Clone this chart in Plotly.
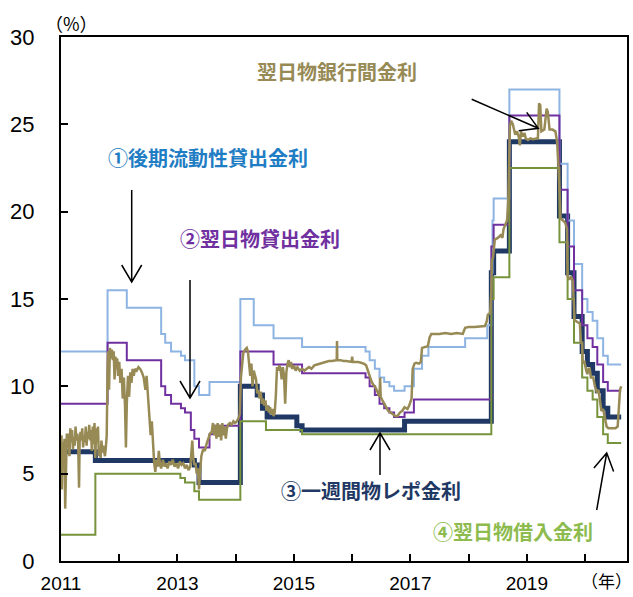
import plotly.graph_objects as go

# ---------------- data (decimal years, %) ----------------
llw_x = [2011.0, 2011.8, 2012.13, 2012.72, 2012.79, 2012.89, 2013.06, 2013.13, 2013.29, 2013.37, 2013.55,
         2014.08, 2014.31, 2014.65, 2015.14, 2016.23, 2016.30, 2016.39, 2016.47, 2016.55, 2016.64, 2016.72,
         2016.90, 2017.06, 2017.2, 2017.31, 2017.94, 2018.32, 2018.39, 2018.41, 2018.43, 2018.70, 2019.56,
         2019.70, 2019.81, 2019.95, 2020.04, 2020.13, 2020.21, 2020.31, 2020.39, 2020.62]
llw_y = [12.0, 15.5, 14.5, 13.0, 12.5, 12.0, 11.75, 11.5, 10.0, 9.5, 10.25,
         15.0, 13.5, 12.75, 12.25, 12.0, 11.5, 11.0, 10.5, 10.25, 10.0, 9.75,
         10.0, 11.0, 11.75, 12.25, 12.75, 13.5, 16.5, 19.5, 20.75, 27.0, 22.75,
         19.5, 17.0, 15.0, 14.25, 13.75, 12.75, 11.75, 11.25, 11.25]

lend_x = [2011.0, 2011.8, 2012.13, 2012.72, 2012.79, 2012.89, 2013.06, 2013.13, 2013.23, 2013.29, 2013.37,
          2013.55, 2013.63, 2014.08, 2014.65, 2015.14, 2016.23, 2016.30, 2016.39, 2016.47, 2016.55, 2016.64,
          2016.72, 2016.90, 2017.06, 2018.39, 2018.43, 2018.70, 2019.56, 2019.70, 2019.81, 2019.95, 2020.04,
          2020.13, 2020.21, 2020.31, 2020.39, 2020.62]
lend_y = [9.0, 12.5, 11.5, 10.0, 9.5, 9.0, 8.75, 8.5, 7.5, 7.0, 6.5,
          7.25, 7.75, 12.0, 11.25, 10.75, 10.5, 10.0, 9.5, 9.0, 8.75, 8.5,
          8.25, 8.5, 9.25, 18.0, 19.25, 25.5, 21.25, 18.0, 15.5, 13.5, 12.75,
          12.25, 11.25, 10.25, 9.75, 9.75]

repo_x = [2011.0, 2011.59, 2013.29, 2013.37, 2014.08, 2014.37, 2014.46, 2014.54, 2015.05, 2015.14, 2016.9,
          2018.39, 2018.43, 2018.70, 2019.56, 2019.70, 2019.81, 2019.95, 2020.04, 2020.13, 2020.21, 2020.31,
          2020.39, 2020.62]
repo_y = [6.25, 5.75, 5.5, 4.5, 10.0, 9.5, 8.75, 8.25, 7.75, 7.5, 8.0,
          16.5, 17.75, 24.0, 19.75, 16.5, 14.0, 12.0, 11.25, 10.75, 9.75, 8.75,
          8.25, 8.25]

borrow_x = [2011.0, 2011.59, 2013.05, 2013.13, 2013.29, 2013.37, 2014.08, 2014.52, 2015.14, 2018.39, 2018.43,
            2018.70, 2019.56, 2019.70, 2019.81, 2019.95, 2020.04, 2020.13, 2020.21, 2020.31, 2020.39, 2020.62]
borrow_y = [1.5, 5.0, 4.75, 4.5, 4.0, 3.5, 8.0, 7.5, 7.25, 15.0, 16.25,
            22.5, 18.25, 15.0, 12.5, 10.5, 9.75, 9.25, 8.25, 7.25, 6.75, 6.75]

interbank_x = [
    2011.0, 2011.008, 2011.015, 2011.03, 2011.05, 2011.06, 2011.072, 2011.085, 2011.1, 2011.115, 2011.13,
    2011.145, 2011.16, 2011.175, 2011.19, 2011.205, 2011.22, 2011.235, 2011.25, 2011.265, 2011.28, 2011.295,
    2011.31, 2011.32, 2011.335, 2011.35, 2011.365, 2011.38, 2011.395, 2011.41, 2011.425, 2011.44, 2011.455,
    2011.47, 2011.485, 2011.5, 2011.515, 2011.53, 2011.545, 2011.56, 2011.575, 2011.59, 2011.605, 2011.62,
    2011.635, 2011.65, 2011.665, 2011.68, 2011.695, 2011.71, 2011.725, 2011.74, 2011.755, 2011.77, 2011.785,
    2011.8, 2011.81, 2011.825, 2011.84, 2011.86, 2011.875, 2011.89, 2011.905, 2011.92, 2011.935, 2011.95,
    2011.965, 2011.98, 2012.0, 2012.02, 2012.04, 2012.06, 2012.08, 2012.1, 2012.115, 2012.13, 2012.15,
    2012.17, 2012.19, 2012.21, 2012.23, 2012.25, 2012.27, 2012.3, 2012.33, 2012.36, 2012.39, 2012.42,
    2012.45, 2012.47, 2012.5, 2012.52, 2012.54, 2012.56, 2012.58, 2012.6, 2012.62, 2012.64, 2012.66,
    2012.68, 2012.7, 2012.72, 2012.75, 2012.78, 2012.8, 2012.83, 2012.86, 2012.89, 2012.92, 2012.95,
    2012.98, 2013.01, 2013.04, 2013.07, 2013.1, 2013.13, 2013.16, 2013.19, 2013.22, 2013.24, 2013.255,
    2013.27, 2013.29, 2013.31, 2013.33, 2013.35, 2013.37, 2013.39, 2013.41, 2013.44, 2013.47, 2013.5,
    2013.53, 2013.56, 2013.59, 2013.61, 2013.63, 2013.65, 2013.67, 2013.69, 2013.71, 2013.73, 2013.75,
    2013.77, 2013.79, 2013.81, 2013.83, 2013.85, 2013.87, 2013.9, 2013.93, 2013.96, 2013.99, 2014.02,
    2014.05, 2014.07, 2014.09, 2014.11, 2014.13, 2014.16, 2014.19, 2014.21, 2014.23, 2014.25, 2014.27,
    2014.29, 2014.31, 2014.33, 2014.35, 2014.37, 2014.39, 2014.41, 2014.43, 2014.45, 2014.47, 2014.49,
    2014.51, 2014.53, 2014.55, 2014.57, 2014.59, 2014.61, 2014.63, 2014.65, 2014.67, 2014.69, 2014.71,
    2014.73, 2014.75, 2014.77, 2014.79, 2014.81, 2014.83, 2014.85, 2014.87, 2014.89, 2014.91, 2014.93,
    2014.95, 2014.97, 2015.0, 2015.03, 2015.06, 2015.1, 2015.14, 2015.18, 2015.22, 2015.26, 2015.3,
    2015.35, 2015.4, 2015.45, 2015.5, 2015.55, 2015.6, 2015.65, 2015.7, 2015.735, 2015.74, 2015.745,
    2015.8, 2015.85, 2015.9, 2015.95, 2015.99, 2016.0, 2016.01, 2016.05, 2016.1, 2016.15, 2016.2,
    2016.24, 2016.27, 2016.3, 2016.33, 2016.36, 2016.39, 2016.42, 2016.45, 2016.47, 2016.48, 2016.49,
    2016.52, 2016.55, 2016.58, 2016.62, 2016.66, 2016.7, 2016.74, 2016.78, 2016.82, 2016.86, 2016.9,
    2016.95, 2016.98, 2017.02, 2017.04, 2017.07, 2017.1, 2017.15, 2017.18, 2017.2, 2017.25, 2017.3,
    2017.33, 2017.36, 2017.4, 2017.5, 2017.6, 2017.7, 2017.8, 2017.9, 2017.94, 2018.0, 2018.1,
    2018.2, 2018.28, 2018.31, 2018.33, 2018.37, 2018.39, 2018.4, 2018.42, 2018.45, 2018.5, 2018.55,
    2018.58, 2018.6, 2018.63, 2018.66, 2018.68, 2018.7, 2018.71, 2018.73, 2018.76, 2018.8, 2018.83,
    2018.86, 2018.88, 2018.9, 2018.93, 2018.96, 2018.98, 2019.02, 2019.06, 2019.1, 2019.15, 2019.19,
    2019.21, 2019.23, 2019.25, 2019.3, 2019.34, 2019.36, 2019.39, 2019.44, 2019.49, 2019.52, 2019.54,
    2019.56, 2019.58, 2019.62, 2019.66, 2019.69, 2019.7, 2019.73, 2019.76, 2019.79, 2019.81, 2019.82,
    2019.86, 2019.91, 2019.93, 2019.95, 2019.96, 2019.99, 2020.02, 2020.04, 2020.06, 2020.08, 2020.1,
    2020.14, 2020.17, 2020.2, 2020.23, 2020.26, 2020.28, 2020.31, 2020.34, 2020.37, 2020.4, 2020.46,
    2020.52, 2020.56, 2020.58, 2020.6, 2020.62]
interbank_y = [
    6.0, 7.2, 4.1, 6.8, 6.2, 7.0, 3.0, 6.6, 7.3, 6.5, 7.3,
    6.0, 7.6, 6.8, 7.5, 6.4, 7.1, 6.6, 7.7, 6.9, 7.3, 6.7,
    4.2, 6.8, 7.4, 6.9, 7.6, 6.5, 7.2, 6.8, 7.7, 6.6, 7.4,
    7.0, 7.8, 6.9, 7.5, 6.3, 7.7, 6.7, 7.9, 5.9, 7.6, 6.8,
    7.7, 6.0, 6.4, 5.9, 6.9, 6.2, 6.6, 6.3, 6.0, 6.5, 7.2,
    11.0, 12.0, 9.8, 12.2, 11.6, 12.1, 11.5, 12.0, 10.4, 11.7, 11.0,
    11.6, 10.6, 11.4, 10.2, 11.0, 9.3, 10.5, 8.8, 6.5, 9.0, 10.6,
    9.4, 10.8, 10.2, 11.0, 10.6, 11.0, 10.9, 11.1, 11.0, 10.8, 10.5,
    9.8, 10.6, 9.0, 8.3, 7.2, 8.0, 6.3, 5.6, 5.1, 5.8, 5.4,
    6.3, 5.5, 5.3, 5.8, 5.4, 5.6, 5.3, 5.7, 5.5, 5.8, 5.4,
    5.6, 5.3, 5.7, 5.5, 5.6, 5.3, 5.5, 5.2, 5.4, 6.2, 6.9,
    5.9, 5.5, 5.6, 5.0, 5.3, 4.1, 5.2, 6.0, 6.4, 6.3, 6.7,
    7.0, 7.3, 7.4, 7.9, 7.2, 7.8, 7.0, 7.9, 7.1, 7.8, 6.9,
    7.9, 7.2, 7.7, 7.0, 7.6, 7.8, 7.9, 7.8, 8.0, 7.9, 8.0,
    8.2, 8.4, 10.5, 11.4, 11.9, 12.1, 12.2, 12.0, 11.2, 10.6, 11.3,
    10.0, 10.9, 10.7, 10.4, 9.6, 9.8, 9.3, 9.7, 9.0, 9.3, 8.9,
    9.2, 8.6, 8.9, 8.5, 8.8, 8.4, 8.7, 8.3, 8.5, 9.5, 11.1,
    10.9, 11.2, 11.0, 10.4, 11.1, 10.6, 9.0, 10.8, 11.3, 11.5, 11.1,
    11.4, 11.0, 11.2, 10.9, 11.1, 10.9, 11.0, 10.9, 11.0, 11.1, 11.0,
    11.2, 11.25, 11.3, 11.35, 11.4, 11.45, 11.45, 11.5, 11.5, 12.6, 11.5,
    11.5, 11.45, 11.45, 11.4, 11.4, 11.7, 11.4, 11.4, 11.4, 11.35, 11.3,
    11.2, 10.9, 10.5, 10.3, 10.1, 10.0, 9.8, 9.6, 9.4, 10.5, 9.4,
    9.2, 9.0, 8.8, 8.6, 8.5, 8.4, 8.3, 8.3, 8.5, 8.6, 8.8,
    8.7, 8.9, 9.3, 11.0, 11.3, 11.35, 11.3, 11.4, 12.2, 12.25, 12.3,
    12.8, 13.0, 13.0, 13.0, 13.05, 13.0, 13.05, 13.0, 13.35, 13.4, 13.4,
    13.45, 13.45, 13.7, 14.1, 14.2, 15.5, 17.2, 17.4, 18.4, 18.5, 18.65,
    18.5, 19.0, 19.3, 19.5, 20.5, 23.0, 24.9, 25.2, 25.0, 24.4, 24.6,
    24.3, 23.8, 24.6, 24.3, 24.5, 24.2, 24.1, 24.2, 24.15, 24.2, 24.2,
    26.2, 26.1, 24.6, 24.7, 25.9, 25.7, 24.7, 24.7, 24.6, 24.0, 22.8,
    20.5, 19.6, 19.5, 19.35, 19.0, 16.3, 16.1, 16.3, 16.0, 14.5, 13.8,
    13.7, 13.6, 12.5, 12.5, 11.35, 11.4, 10.9, 10.7, 11.0, 11.0, 10.5,
    10.5, 10.0, 9.7, 9.8, 9.2, 8.6, 8.7, 8.2, 7.7, 7.6, 7.6,
    7.6, 7.7, 8.8, 9.8, 10.0]

year_ticks = [2011, 2012, 2013, 2014, 2015, 2016, 2017, 2018, 2019, 2020]
year_labels = ["2011", "", "2013", "", "2015", "", "2017", "", "2019", ""]
pct_ticks = [0, 5, 10, 15, 20, 25, 30]

# ---------------- styles ----------------
C_LLW = "#8DB4E2"
C_LEND = "#7030A0"
C_REPO = "#1F3864"
C_BORROW = "#77933C"
C_IB = "#978A55"

W, H = 633, 597
ML, MR, MT, MB = 61, 6, 37, 36
PW, PH = W - ML - MR, H - MT - MB

fig = go.Figure()
fig.add_trace(go.Scatter(x=repo_x, y=repo_y, mode="lines", line=dict(color=C_REPO, width=5, shape="hv")))
fig.add_trace(go.Scatter(x=llw_x, y=llw_y, mode="lines", line=dict(color=C_LLW, width=2, shape="hv")))
fig.add_trace(go.Scatter(x=lend_x, y=lend_y, mode="lines", line=dict(color=C_LEND, width=2, shape="hv")))
fig.add_trace(go.Scatter(x=borrow_x, y=borrow_y, mode="lines", line=dict(color=C_BORROW, width=2, shape="hv")))
fig.add_trace(go.Scatter(x=interbank_x, y=interbank_y, mode="lines", line=dict(color=C_IB, width=2.5)))

CJK = "Noto Sans CJK JP"
labels = [
    ("翌日物銀行間金利", 2015.74, 28.0, "#978A55"),
    ("①後期流動性貸出金利", 2013.52, 23.1, "#1F7DC4"),
    ("②翌日物貸出金利", 2014.42, 18.46, "#7030A0"),
    ("③一週間物レポ金利", 2016.33, 4.04, "#1F3864"),
    ("④翌日物借入金利", 2018.76, 1.69, "#8DBB4E"),
]
for txt, x, y, col in labels:
    fig.add_annotation(x=x, y=y, xref="x", yref="y", text="<b>" + txt + "</b>", showarrow=False,
                       font=dict(family=CJK, size=20, color=col), xanchor="center", yanchor="middle")

fig.add_annotation(x=(71 - ML) / PW, y=(H - MB - 23) / PH, xref="paper", yref="paper", text="（%）",
                   showarrow=False, xanchor="center", yanchor="middle",
                   font=dict(family=CJK, size=18, color="black"))
fig.add_annotation(x=(606 - ML) / PW, y=(H - MB - 580) / PH, xref="paper", yref="paper", text="（年）",
                   showarrow=False, xanchor="center", yanchor="middle",
                   font=dict(family=CJK, size=17, color="black"))


def px2paper(px, py):
    return (px - ML) / PW, (H - MB - py) / PH


def arrow(x0, y0, x1, y1, head=17, half=10):
    import math
    dx, dy = x1 - x0, y1 - y0
    L = math.hypot(dx, dy)
    ux, uy = dx / L, dy / L
    bx, by = x1 - ux * head, y1 - uy * head
    nx, ny = -uy, ux
    pts = [(x0, y0), (x1, y1), (bx + nx * half, by + ny * half), (bx - nx * half, by - ny * half)]
    p = [px2paper(*q) for q in pts]
    path = (f"M {p[0][0]} {p[0][1]} L {p[1][0]} {p[1][1]} "
            f"M {p[2][0]} {p[2][1]} L {p[1][0]} {p[1][1]} L {p[3][0]} {p[3][1]}")
    fig.add_shape(type="path", path=path, xref="paper", yref="paper",
                  line=dict(color="black", width=1.5))


arrow(131.7, 190, 131.7, 282)
arrow(190, 280, 190, 398)
arrow(380, 475, 380, 433)
arrow(596.7, 510, 606.7, 453)
arrow(471.7, 99.3, 538.3, 128.3)

fig.update_layout(
    width=W, height=H,
    margin=dict(l=ML, r=MR, t=MT, b=MB, autoexpand=False),
    paper_bgcolor="white", plot_bgcolor="white",
    showlegend=False,
    xaxis=dict(range=[2011, 2020.72], tickvals=year_ticks, ticktext=year_labels,
               ticks="inside", ticklen=7, tickwidth=1.5, tickcolor="black",
               showline=True, linecolor="black", linewidth=2, mirror=True,
               showgrid=False, zeroline=False, ticklabelstandoff=4, automargin=False,
               tickfont=dict(family="Liberation Sans", size=19, color="black")),
    yaxis=dict(range=[0, 30], tickvals=pct_ticks,
               ticks="inside", ticklen=7, tickwidth=1.5, tickcolor="black",
               showline=True, linecolor="black", linewidth=2, mirror=True,
               showgrid=False, zeroline=False, ticklabelstandoff=20, automargin=False,
               tickfont=dict(family="Liberation Sans", size=22, color="black")),
)

fig.write_html("out.html", config={"displayModeBar": False},
               post_script="document.body.style.margin='0';document.body.style.padding='0';"
                           "document.body.style.overflow='hidden';")
